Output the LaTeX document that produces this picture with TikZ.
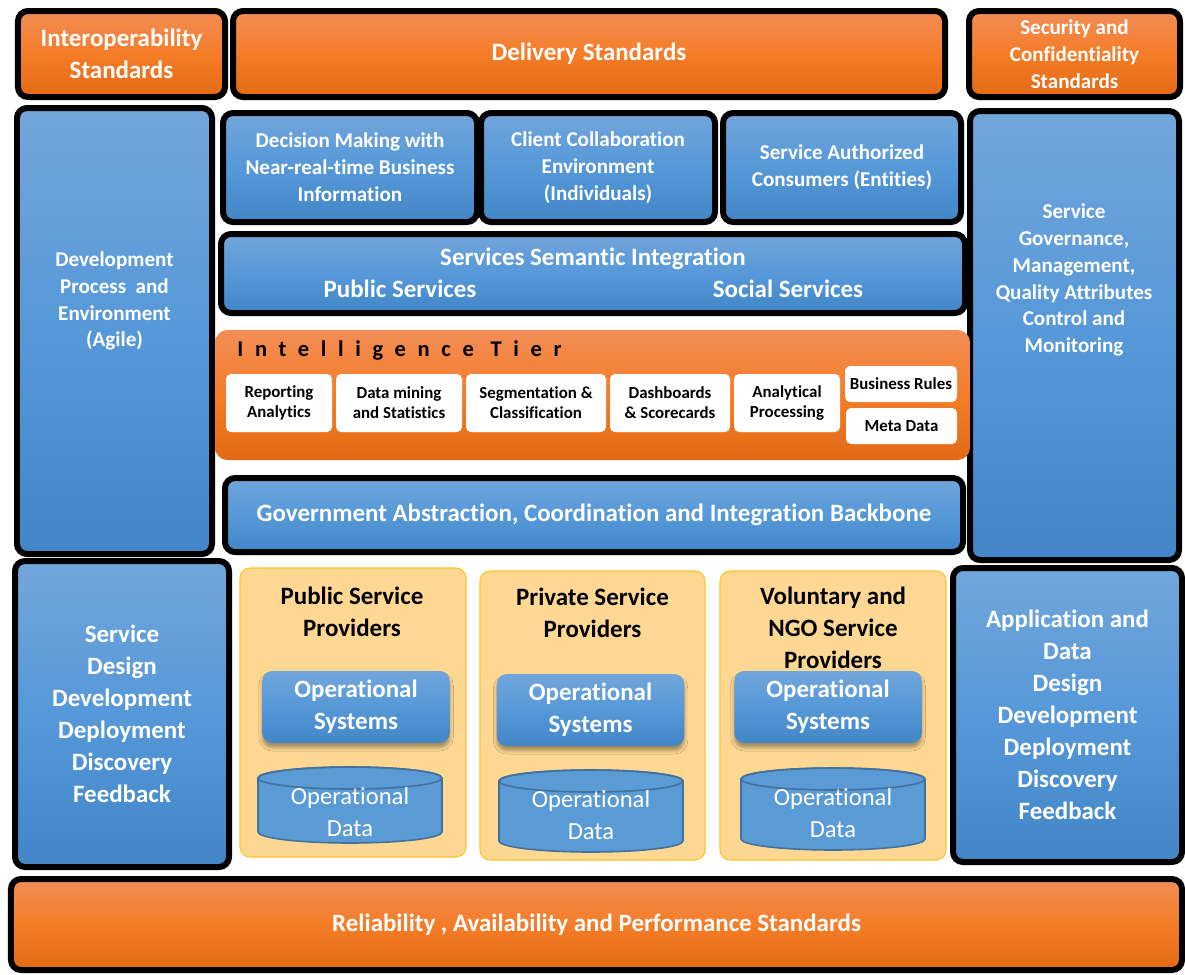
\documentclass[tikz,border=0pt]{standalone}
\usepackage{fontspec}
\setmainfont{Carlito}[Ligatures=NoCommon]
\usepackage{tikz}
\usetikzlibrary{shadows.blur}

\definecolor{orTop}{RGB}{242,141,86}
\definecolor{orMid}{RGB}{245,125,40}
\definecolor{orBot}{RGB}{226,106,20}
\definecolor{blTop}{RGB}{114,166,219}
\definecolor{blMid}{RGB}{86,152,216}
\definecolor{blBot}{RGB}{66,134,199}
\definecolor{provFill}{RGB}{254,216,146}
\definecolor{provLine}{RGB}{255,196,40}
\definecolor{dbFill}{RGB}{91,155,213}
\definecolor{dbLine}{RGB}{65,113,156}

\begin{document}
\begin{tikzpicture}[
    slab/.style={draw=black, line width=0.12cm, rounded corners=0.2cm, text=white, align=center, inner sep=0pt},
    orange slab/.style={slab, top color=orTop, bottom color=orBot, middle color=orMid},
    blue slab/.style={slab, top color=blTop, bottom color=blBot, middle color=blMid},
    headtxt/.style={font=\fontsize{14.2}{18.2}\selectfont\bfseries},
    bodytxt/.style={font=\fontsize{12}{15.3}\selectfont\bfseries},
    tooltxt/.style={font=\fontsize{9.6}{11.4}\selectfont\bfseries},
    toolbox/.style={fill=white, rounded corners=0.1cm, align=center, inner sep=0pt, tooltxt},
    provider/.style={fill=provFill, draw=provLine, line width=0.6pt, rounded corners=0.2cm, inner sep=0pt},
    opsys/.style={top color=blTop, bottom color=blBot, middle color=blMid, rounded corners=0.2cm,
      blur shadow={shadow xshift=0pt, shadow yshift=-0.09cm, shadow blur radius=0.07cm, shadow opacity=35},
      minimum width=3.75cm, minimum height=1.44cm, text=white, align=center, inner sep=0pt, headtxt},
    db/.style={fill=dbFill, draw=dbLine, line width=0.9pt}
  ]
  \fill[white] (0,0) rectangle (23.7,-19.48);
  \useasboundingbox (0,0) rectangle (23.7,-19.48);

  % Standards along the top
  \node[orange slab, headtxt, minimum width=4.14cm, minimum height=1.72cm] (interop) at (2.43,-1.08) {Interoperability\\Standards};
  \node[orange slab, headtxt, minimum width=14.24cm, minimum height=1.72cm] (delivery) at (11.78,-1.08) {Delivery Standards};
  \node[orange slab, bodytxt, minimum width=4.22cm, minimum height=1.72cm] (security) at (21.49,-1.08) {Security and\\Confidentiality\\Standards};

  % Side columns
  \node[blue slab, minimum width=3.9cm, minimum height=8.92cm] (devproc) at (2.29,-6.62) {};
  \node[bodytxt, text=white, align=center] (devproc-t) at (2.29,-6.02) {Development\\Process~~and\\Environment\\(Agile)};
  \node[blue slab, minimum width=4.18cm, minimum height=8.98cm] (governance) at (21.49,-6.71) {};
  \node[bodytxt, text=white, align=center] (governance-t) at (21.48,-5.6) {Service\\Governance,\\Management,\\Quality Attributes\\Control and\\Monitoring};

  % Consumers
  \node[blue slab, bodytxt, minimum width=5.08cm, minimum height=2.18cm] (decision) at (7.0,-3.35) {Decision Making with\\Near-real-time Business\\Information};
  \node[blue slab, bodytxt, minimum width=4.68cm, minimum height=2.18cm] (client) at (11.96,-3.35) {Client Collaboration\\Environment\\(Individuals)};
  \node[blue slab, bodytxt, minimum width=4.76cm, minimum height=2.18cm] (consumers) at (16.84,-3.35) {Service Authorized\\Consumers (Entities)};

  % Semantic integration
  \node[blue slab, minimum width=14.88cm, minimum height=1.58cm] (semantic) at (11.86,-5.47) {};
  \node[headtxt, text=white] (semantic-t) at (11.86,-5.17) {Services Semantic Integration};
  \node[headtxt, text=white] (public) at (8.0,-5.78) {Public Services};
  \node[headtxt, text=white] (social) at (15.76,-5.78) {Social Services};

  % Intelligence tier
  \node[top color=orTop, bottom color=orBot, middle color=orMid, rounded corners=0.25cm,
    minimum width=15.1cm, minimum height=2.6cm] (tier) at (11.85,-7.9) {};
  \node[anchor=west, inner sep=0pt, font=\fontsize{12.8}{14}\selectfont\bfseries\addfontfeature{LetterSpace=52}] (tier-t) at (4.74,-7.02) {Intelligence Tier};
  \node[toolbox, minimum width=2.12cm, minimum height=1.16cm] (reporting) at (5.58,-8.06) {Reporting\\Analytics};
  \node[toolbox, minimum width=2.52cm, minimum height=1.16cm] (mining) at (7.98,-8.06) {Data mining\\and Statistics};
  \node[toolbox, minimum width=2.8cm, minimum height=1.16cm] (segment) at (10.72,-8.06) {Segmentation \&\\Classification};
  \node[toolbox, minimum width=2.4cm, minimum height=1.16cm] (dash) at (13.4,-8.06) {Dashboards\\\& Scorecards};
  \node[toolbox, minimum width=2.12cm, minimum height=1.16cm] (olap) at (15.74,-8.06) {Analytical\\Processing};
  \node[toolbox, minimum width=2.24cm, minimum height=0.72cm] (rules) at (18.02,-7.68) {Business Rules};
  \node[toolbox, minimum width=2.22cm, minimum height=0.72cm] (meta) at (18.03,-8.52) {Meta Data};

  % Backbone
  \node[blue slab, headtxt, minimum width=14.76cm, minimum height=1.48cm] (backbone) at (11.88,-10.3) {Government Abstraction, Coordination and Integration Backbone};

  % Lifecycle columns
  \node[blue slab, headtxt, minimum width=4.28cm, minimum height=6.12cm] (svclife) at (2.44,-14.28) {Service\\Design\\Development\\Deployment\\Discovery\\Feedback};
  \node[blue slab, headtxt, minimum width=4.58cm, minimum height=5.88cm] (applife) at (21.35,-14.3) {Application and\\Data\\Design\\Development\\Deployment\\Discovery\\Feedback};

  % Service providers
  \node[provider, minimum width=4.52cm, minimum height=5.78cm] (pubprov) at (7.06,-14.25) {};
  \node[provider, minimum width=4.5cm, minimum height=5.78cm] (privprov) at (11.85,-14.31) {};
  \node[provider, minimum width=4.52cm, minimum height=5.78cm] (volprov) at (16.66,-14.31) {};
  \node[headtxt, align=center] (pubprov-t) at (7.04,-12.23) {Public Service\\Providers};
  \node[headtxt, align=center] (privprov-t) at (11.85,-12.25) {Private Service\\Providers};
  \node[headtxt, align=center] (volprov-t) at (16.66,-12.56) {Voluntary and\\NGO Service\\Providers};

  \node[opsys] (pubsys) at (7.12,-14.14) {Operational\\Systems};
  \node[opsys] (privsys) at (11.81,-14.2) {Operational\\Systems};
  \node[opsys] (volsys) at (16.56,-14.14) {Operational\\Systems};

  % Operational data stores
  \foreach \cx/\yt/\yb/\ty/\nm in {7.0/-15.56/-16.64/-16.24/pubdata, 11.82/-15.62/-16.82/-16.31/privdata, 16.66/-15.58/-16.78/-16.26/voldata} {
    \filldraw[db] (\cx-1.84,\yt) -- (\cx-1.84,\yb) arc[start angle=180, end angle=360, x radius=1.84, y radius=0.22]
      -- (\cx+1.84,\yt) arc[start angle=0, end angle=180, x radius=1.84, y radius=0.22] -- cycle;
    \draw[db, fill=none] (\cx,\yt) ellipse[x radius=1.84, y radius=0.22];
    \node[text=white, align=center, font=\fontsize{14}{18.2}\selectfont] (\nm) at (\cx,\ty) {Operational\\Data};
  }

  % Standards along the bottom
  \node[orange slab, headtxt, minimum width=23.42cm, minimum height=1.82cm] (reliability) at (11.93,-18.49) {Reliability , Availability and Performance Standards};
\end{tikzpicture}
\end{document}
